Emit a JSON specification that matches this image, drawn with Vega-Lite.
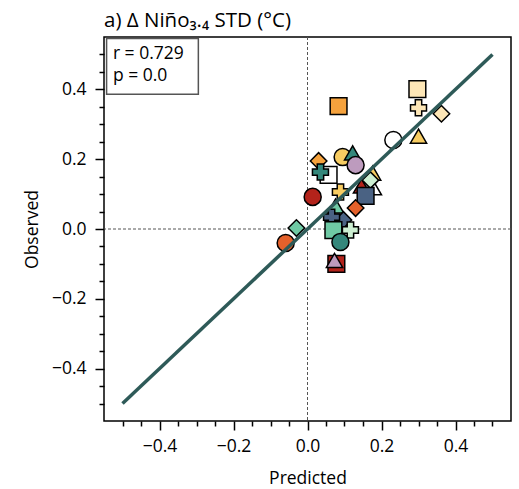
{
  "$schema": "https://vega.github.io/schema/vega-lite/v6.json",
  "autosize": {"type": "none"},
  "width": 407,
  "height": 384,
  "padding": {"left": 104, "top": 37, "right": 8, "bottom": 68},
  "background": "white",
  "title": {"text": "a) Δ Niño₃.₄ STD (°C)", "anchor": "start", "frame": "group", "font": "Open Sans", "fontSize": 20.5, "fontWeight": "normal", "color": "black", "offset": 5},
  "config": {
    "font": "Open Sans",
    "view": {"stroke": "black", "strokeWidth": 1.5},
    "axis": {"domain": false, "grid": false, "tickColor": "black", "tickWidth": 1.5, "labelFont": "Open Sans", "labelFontSize": 17.5, "labelColor": "black", "titleFont": "Open Sans", "titleFontSize": 17.5, "titleFontWeight": "normal", "titleColor": "black", "labelOverlap": false, "labelFlush": false}
  },
  "datasets": {
    "pts": [
      {"x": 0.084, "y": 0.352, "shape": "square", "c": "orange"},
      {"x": 0.297, "y": 0.401, "shape": "square", "c": "cream"},
      {"x": 0.300, "y": 0.347, "shape": "cross", "c": "cream"},
      {"x": 0.362, "y": 0.330, "shape": "diamond", "c": "cream"},
      {"x": 0.232, "y": 0.255, "shape": "circle", "c": "white"},
      {"x": 0.300, "y": 0.266, "shape": "triangle-up", "c": "yellow"},
      {"x": 0.030, "y": 0.195, "shape": "diamond", "c": "orange"},
      {"x": 0.095, "y": 0.206, "shape": "circle", "c": "yellow"},
      {"x": 0.122, "y": 0.218, "shape": "triangle-up", "c": "teal"},
      {"x": 0.130, "y": 0.183, "shape": "circle", "c": "lilac"},
      {"x": 0.057, "y": 0.155, "shape": "square", "c": "white"},
      {"x": 0.035, "y": 0.163, "shape": "cross", "c": "teal"},
      {"x": 0.014, "y": 0.092, "shape": "circle", "c": "darkred"},
      {"x": 0.089, "y": 0.106, "shape": "cross", "c": "yellow"},
      {"x": 0.176, "y": 0.160, "shape": "triangle-up", "c": "yellow"},
      {"x": 0.146, "y": 0.123, "shape": "triangle-up", "c": "darkred"},
      {"x": 0.178, "y": 0.118, "shape": "triangle-up", "c": "white"},
      {"x": 0.170, "y": 0.140, "shape": "diamond", "c": "lightmint"},
      {"x": 0.157, "y": 0.095, "shape": "square", "c": "slate"},
      {"x": 0.130, "y": 0.060, "shape": "diamond", "c": "vermilion"},
      {"x": 0.076, "y": 0.066, "shape": "triangle-up", "c": "mint"},
      {"x": 0.097, "y": 0.026, "shape": "diamond", "c": "slate"},
      {"x": 0.065, "y": 0.034, "shape": "cross", "c": "slate"},
      {"x": 0.116, "y": -0.003, "shape": "cross", "c": "lightmint"},
      {"x": 0.070, "y": -0.003, "shape": "square", "c": "mint"},
      {"x": 0.089, "y": -0.037, "shape": "circle", "c": "teal"},
      {"x": -0.030, "y": 0.003, "shape": "diamond", "c": "mint"},
      {"x": -0.059, "y": -0.040, "shape": "circle", "c": "vermilion"},
      {"x": 0.078, "y": -0.100, "shape": "square", "c": "darkred"},
      {"x": 0.073, "y": -0.090, "shape": "triangle-up", "c": "lilac"}
    ]
  },
  "layer": [
    {
      "data": {"values": [{"x": 0}]},
      "mark": {"type": "rule", "color": "#555555", "strokeWidth": 1, "strokeDash": [3, 2]},
      "encoding": {"x": {"field": "x", "type": "quantitative", "title": "Predicted"}}
    },
    {
      "data": {"values": [{"y": 0}]},
      "mark": {"type": "rule", "color": "#555555", "strokeWidth": 1, "strokeDash": [3, 2]},
      "encoding": {"y": {"field": "y", "type": "quantitative", "title": "Observed"}}
    },
    {
      "data": {"name": "pts"},
      "mark": {"type": "point", "filled": true, "opacity": 1, "stroke": "black", "strokeWidth": 1.5},
      "encoding": {
        "x": {"field": "x", "type": "quantitative", "title": "Predicted",
          "scale": {"domain": [-0.55, 0.55], "nice": false, "zero": false},
          "axis": {
            "values": [-0.5, -0.45, -0.4, -0.35, -0.3, -0.25, -0.2, -0.15, -0.1, -0.05, 0, 0.05, 0.1, 0.15, 0.2, 0.25, 0.3, 0.35, 0.4, 0.45, 0.5],
            "tickCount": 100,
            "labelExpr": "abs(datum.value*5 - round(datum.value*5)) < 0.001 ? format(datum.value, '.1f') : ''",
            "tickSize": {"condition": {"test": "abs(datum.value*5 - round(datum.value*5)) < 0.001", "value": 9}, "value": 5},
            "labelPadding": 7, "titlePadding": 15
          }
        },
        "y": {"field": "y", "type": "quantitative", "title": "Observed",
          "scale": {"domain": [-0.55, 0.55], "nice": false, "zero": false},
          "axis": {
            "values": [-0.5, -0.45, -0.4, -0.35, -0.3, -0.25, -0.2, -0.15, -0.1, -0.05, 0, 0.05, 0.1, 0.15, 0.2, 0.25, 0.3, 0.35, 0.4, 0.45, 0.5],
            "tickCount": 100,
            "labelExpr": "abs(datum.value*5 - round(datum.value*5)) < 0.001 ? format(datum.value, '.1f') : ''",
            "tickSize": {"condition": {"test": "abs(datum.value*5 - round(datum.value*5)) < 0.001", "value": 9}, "value": 5},
            "labelPadding": 9, "titlePadding": 10
          }
        },
        "shape": {"field": "shape", "type": "nominal", "legend": null,
          "scale": {"domain": ["circle", "square", "diamond", "triangle-up", "cross"], "range": ["circle", "square", "diamond", "triangle-up", "cross"]}},
        "size": {"field": "shape", "type": "nominal", "legend": null,
          "scale": {"domain": ["circle", "square", "diamond", "triangle-up", "cross"], "range": [290, 256, 620, 330, 300]}},
        "fill": {"field": "c", "type": "nominal", "legend": null,
          "scale": {"domain": ["darkred", "vermilion", "orange", "yellow", "cream", "white", "lightmint", "mint", "teal", "slate", "lilac"],
                    "range": ["#B3231B", "#E4612B", "#F5A23D", "#F7CC62", "#FDE6B6", "#FFFFFF", "#CDEFD2", "#6FC9A4", "#34877B", "#4A6283", "#BD9BBE"]}}
      }
    },
    {
      "data": {"values": [{"x": -0.5, "y": -0.5}, {"x": 0.5, "y": 0.5}]},
      "mark": {"type": "line", "color": "#2E5A58", "strokeWidth": 3.5},
      "encoding": {
        "x": {"field": "x", "type": "quantitative", "title": "Predicted"},
        "y": {"field": "y", "type": "quantitative", "title": "Observed"}
      }
    },
    {
      "data": {"values": [{"x": -0.543, "x2": -0.295, "y": 0.546, "y2": 0.386}]},
      "mark": {"type": "rect", "fill": "white", "stroke": "#555555", "strokeWidth": 1.5},
      "encoding": {
        "x": {"field": "x", "type": "quantitative", "title": "Predicted"},
        "x2": {"field": "x2"},
        "y": {"field": "y", "type": "quantitative", "title": "Observed"},
        "y2": {"field": "y2"}
      }
    },
    {
      "data": {"values": [{"x": -0.526, "y": 0.500, "t": "r = 0.729"}, {"x": -0.526, "y": 0.437, "t": "p = 0.0"}]},
      "mark": {"type": "text", "align": "left", "baseline": "middle", "fontSize": 17.5, "font": "Open Sans", "color": "black"},
      "encoding": {
        "x": {"field": "x", "type": "quantitative", "title": "Predicted"},
        "y": {"field": "y", "type": "quantitative", "title": "Observed"},
        "text": {"field": "t"}
      }
    }
  ]
}
